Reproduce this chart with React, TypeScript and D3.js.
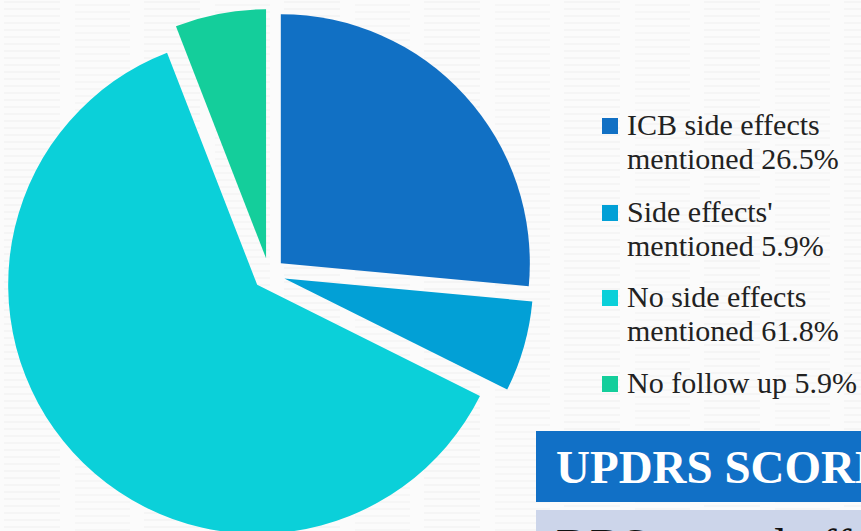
import React from "react";
import * as d3 from "d3";

const categories = ["ICB side effects mentioned", "Side effects' mentioned", "No side effects mentioned", "No follow up"];
const legendLines = [
  ["ICB side effects", "mentioned"],
  ["Side effects'", "mentioned"],
  ["No side effects", "mentioned"],
  ["No follow up"],
];
const values = [26.5, 5.9, 61.8, 5.9];
const colors = ["#1170c4", "#02a0d6", "#0bd0d9", "#14ce9b"];
const bannerTitle = "UPDRS SCORES";
const bannerSub = "DBS on and off";

const W = 861;
const H = 531;

export default function App() {
  const cx = 269;
  const cy = 274;
  const r = 249;
  const explode = 16;

  const pie = d3.pie<number>().sort(null).value((d) => d).startAngle(0).endAngle(2 * Math.PI);
  const arcs = pie(values);
  const arc = d3.arc<d3.PieArcDatum<number>>().innerRadius(0).outerRadius(r);

  const legendX = 602;
  const textX = 627;
  const itemY = [135, 222, 307, 393];
  const lineGap = 34;

  return (
    <svg width={W} height={H} style={{ position: "absolute", left: 0, top: 0 }}>
      <defs>
        <pattern id="bgtex" width="140" height="7" patternUnits="userSpaceOnUse">
          <rect width="140" height="7" fill="#fbfbfb" />
          <line x1="4" x2="60" y1="2" y2="2" stroke="#f0f0f0" strokeWidth="1" />
          <line x1="75" x2="130" y1="5" y2="5" stroke="#f2f2f2" strokeWidth="1" />
        </pattern>
      </defs>
      <rect width={W} height={H} fill="url(#bgtex)" />
      <g>
        {arcs.map((a, i) => {
          const mid = (a.startAngle + a.endAngle) / 2;
          const dx = Math.sin(mid) * explode;
          const dy = -Math.cos(mid) * explode;
          return (
            <path
              key={categories[i]}
              d={arc(a) || ""}
              fill={colors[i]}
              transform={`translate(${cx + dx},${cy + dy})`}
            />
          );
        })}
      </g>
      <g fontFamily="'Liberation Serif', 'Times New Roman', serif" fontSize={30} fill="#222">
        {categories.map((c, i) => {
          const lines = legendLines[i];
          const y0 = itemY[i];
          return (
            <g key={c}>
              <rect x={legendX} y={y0 - 17} width={16} height={16} fill={colors[i]} />
              {lines.map((ln, j) => (
                <text key={j} x={textX} y={y0 + j * lineGap}>
                  {j === lines.length - 1 ? `${ln} ${values[i]}%` : ln}
                </text>
              ))}
            </g>
          );
        })}
      </g>
      <rect x={536} y={431} width={W - 536} height={71} fill="#1170c6" />
      <text
        x={556}
        y={483}
        fill="#ffffff"
        fontFamily="'Liberation Serif', 'Times New Roman', serif"
        fontWeight="bold"
        fontSize={47}
      >
        {bannerTitle}
      </text>
      <rect x={536} y={510} width={W - 536} height={30} fill="#ccd5ea" />
      <text
        x={556}
        y={561}
        fill="#111"
        fontFamily="'Liberation Serif', 'Times New Roman', serif"
        fontSize={47}
      >
        {bannerSub}
      </text>
    </svg>
  );
}
